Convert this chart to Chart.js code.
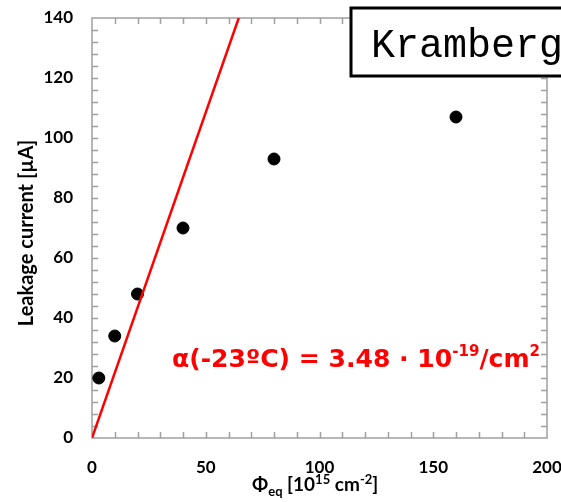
<!DOCTYPE html>
<html>
<head>
<meta charset="utf-8">
<script src="https://cdn.jsdelivr.net/npm/chart.js@4.4.0/dist/chart.umd.min.js"></script>
<style>
  html, body { margin: 0; padding: 0; background: #fff; }
  .canvas-container { position: relative; width: 561px; height: 502px; }
</style>
</head>
<body>
<div class="canvas-container"><canvas id="leakage"></canvas></div>
<script>
// Measured leakage current vs. equivalent fluence
const fluence = [3, 10, 20, 40, 80, 160];
const leakageCurrent = [20, 34, 48, 70, 93, 107];

// Linear damage-rate line through the origin
const fitFluence = [0, 64.5];
const fitCurrent = [0, 140];

const xTicks = [0, 50, 100, 150, 200];
const yTicks = [0, 20, 40, 60, 80, 100, 120, 140];

const labelFont = "Lato, 'Open Sans', sans-serif";
const noteFont = "'DejaVu Sans', sans-serif";
const axisGrey = "#a0a0a0";

function toPoints(xs, ys) {
  return xs.map((x, i) => ({ x: x, y: ys[i] }));
}

// draw a row of text pieces, each with its own font and vertical shift
function drawRuns(ctx, runs, x, y, width) {
  let total = 0;
  runs.forEach((r) => { ctx.font = r.font; total += ctx.measureText(r.text).width; });
  const sx = width ? width / total : 1;
  ctx.save();
  ctx.translate(x, y);
  ctx.scale(sx, 1);
  let cx = 0;
  runs.forEach((r) => {
    ctx.font = r.font;
    ctx.fillText(r.text, cx, r.dy || 0);
    cx += ctx.measureText(r.text).width;
  });
  ctx.restore();
}

const framePlugin = {
  id: "frame",
  beforeDatasetsDraw(chart) {
    const { ctx, chartArea: a, scales } = chart;
    ctx.save();
    ctx.strokeStyle = axisGrey;
    ctx.lineWidth = 1.5;
    ctx.strokeRect(a.left, a.top, a.right - a.left, a.bottom - a.top);

    // inward ticks on all four sides
    const len = 6;
    ctx.beginPath();
    for (let v = 10; v < 200; v += 10) {
      const px = Math.round(scales.x.getPixelForValue(v)) + 0.5;
      ctx.moveTo(px, a.bottom); ctx.lineTo(px, a.bottom - len);
      ctx.moveTo(px, a.top); ctx.lineTo(px, a.top + len);
    }
    for (let v = 4; v < 140; v += 4) {
      const py = Math.round(scales.y.getPixelForValue(v)) + 0.5;
      ctx.moveTo(a.left, py); ctx.lineTo(a.left + len, py);
      ctx.moveTo(a.right, py); ctx.lineTo(a.right - len, py);
    }
    ctx.stroke();
    ctx.restore();
  },
  afterDraw(chart) {
    const { ctx } = chart;
    ctx.save();
    ctx.fillStyle = "#000";
    ctx.textBaseline = "alphabetic";

    // y axis title
    ctx.save();
    ctx.translate(27, 233);
    ctx.rotate(-Math.PI / 2);
    ctx.textAlign = "center";
    ctx.textBaseline = "middle";
    ctx.font = "bold 20px " + labelFont;
    ctx.fillText("Leakage current [\u00b5A]", 0, 0);
    ctx.restore();

    // x axis title with sub/superscripts
    const big = "bold 19px " + labelFont;
    const small = "bold 13px " + labelFont;
    drawRuns(ctx, [
      { text: "\u03a6", font: big },
      { text: "eq", font: small, dy: 5 },
      { text: " [10", font: big },
      { text: "15", font: small, dy: -7 },
      { text: " cm", font: big },
      { text: "-2", font: small, dy: -7 },
      { text: "]", font: big },
    ], 252, 491);

    // damage rate annotation
    ctx.fillStyle = "#ff0000";
    const aBig = "bold 25px " + noteFont;
    const aSmall = "bold 15px " + noteFont;
    drawRuns(ctx, [
      { text: "\u03b1(-23\u00baC) = 3.48 \u00b7 10", font: aBig },
      { text: "-19", font: aSmall, dy: -11 },
      { text: "/cm", font: aBig },
      { text: "2", font: aSmall, dy: -11 },
    ], 172, 367, 368);

    // name box in the top right corner
    ctx.fillStyle = "#fff";
    ctx.fillRect(351, 8, 240, 68);
    ctx.strokeStyle = "#000";
    ctx.lineWidth = 3;
    ctx.strokeRect(351, 8, 240, 68);
    ctx.fillStyle = "#000";
    ctx.font = "40px 'Liberation Mono', 'Courier New', monospace";
    ctx.fillText("Kramberg", 371, 57);
    ctx.restore();
  },
};

new Chart(document.getElementById("leakage"), {
  type: "scatter",
  data: {
    datasets: [
      {
        label: "fit",
        type: "line",
        data: toPoints(fitFluence, fitCurrent),
        borderColor: "#ff0000",
        borderWidth: 2.5,
        pointRadius: 0,
        fill: false,
      },
      {
        label: "origin",
        data: toPoints([fitFluence[0]], [fitCurrent[0]]),
        pointRadius: 2.5,
        pointBackgroundColor: "#dce8f7",
        pointBorderColor: "#7ea6de",
        pointBorderWidth: 1,
      },
      {
        label: "Leakage current",
        data: toPoints(fluence, leakageCurrent),
        pointRadius: 6,
        pointBackgroundColor: "#000",
        pointBorderColor: "#000",
      },
    ],
  },
  options: {
    responsive: true,
    maintainAspectRatio: false,
    animation: false,
    layout: { padding: { left: 0, right: 14, top: 18, bottom: 0 } },
    plugins: {
      legend: { display: false },
      tooltip: { enabled: false },
    },
    scales: {
      x: {
        type: "linear",
        min: 0,
        max: 200,
        afterBuildTicks: (s) => { s.ticks = xTicks.map((v) => ({ value: v })); },
        afterFit: (s) => { s.height = 64; s.paddingLeft = 0; s.paddingRight = 0; },
        grid: { display: false, drawTicks: false },
        border: { display: false },
        ticks: {
          padding: 19,
          color: "#000",
          font: { family: labelFont, size: 17, weight: "bold" },
        },
      },
      y: {
        type: "linear",
        min: 0,
        max: 140,
        afterBuildTicks: (s) => { s.ticks = yTicks.map((v) => ({ value: v })); },
        afterFit: (s) => { s.width = 92; s.paddingTop = 0; s.paddingBottom = 0; },
        grid: { display: false, drawTicks: false },
        border: { display: false },
        ticks: {
          padding: 19,
          color: "#000",
          font: { family: labelFont, size: 17, weight: "bold" },
        },
      },
    },
  },
  plugins: [framePlugin],
});
</script>
</body>
</html>
